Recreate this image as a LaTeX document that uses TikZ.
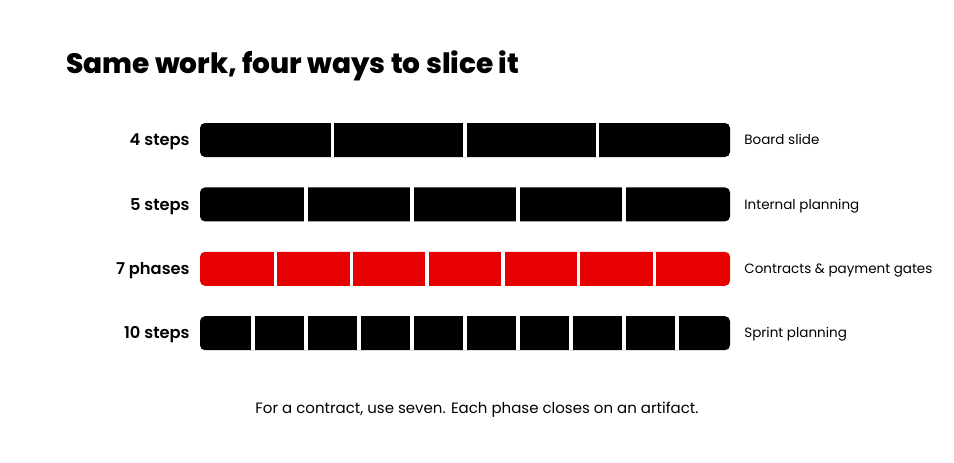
\documentclass[tikz,border=0pt]{standalone}
\usepackage{fontspec}
\setmainfont{Poppins}
\newfontfamily\titlefont{Poppins}[UprightFont=* ExtraBold]
\newfontfamily\labelfont{Poppins}[UprightFont=* SemiBold]
\usetikzlibrary{positioning, calc}
\definecolor{gatered}{RGB}{230,0,0}
\tikzstyle{heading} = [anchor=base west, inner sep=0pt, font=\titlefont\fontsize{28}{34}\selectfont]
\tikzstyle{bar} = [rectangle, rounded corners=5pt, minimum width=530pt, minimum height=34pt, inner sep=0pt, fill=black]
\tikzstyle{rowlabel} = [inner sep=0pt, text height=11.4pt, text depth=0pt, font=\labelfont\fontsize{16.3}{19}\selectfont]
\tikzstyle{note} = [inner sep=0pt, text height=9.5pt, text depth=0pt, font=\fontsize{13.5}{16}\selectfont]
\tikzstyle{caption} = [anchor=base, inner sep=0pt, font=\fontsize{15}{18}\selectfont]
\tikzstyle{divider} = [white, line width=3.5pt]

\begin{document}
\begin{tikzpicture}[x=1pt, y=-1pt]
    \useasboundingbox (0,0) rectangle (954,463);
    \node (title) [heading] at (66,73) {Same work, four ways to slice it};

    \node (bar4) [bar] at (465,140) {};
    \node (bar5) [bar, below=30pt of bar4] {};
    \node (bar7) [bar, fill=gatered, below=30pt of bar5] {};
    \node (bar10) [bar, below=30pt of bar7] {};

    \node (lab4) [rowlabel, left=10pt of bar4] {4 steps};
    \node (lab5) [rowlabel, left=10pt of bar5] {5 steps};
    \node (lab7) [rowlabel, left=10pt of bar7] {7 phases};
    \node (lab10) [rowlabel, left=10pt of bar10] {10 steps};

    \node (note4) [note, right=14pt of bar4] {Board slide};
    \node (note5) [note, right=14pt of bar5] {Internal planning};
    \node (note7) [note, right=14pt of bar7] {Contracts \& payment gates};
    \node (note10) [note, right=14pt of bar10] {Sprint planning};

    % white cuts between the slices
    \foreach \b/\n in {bar4/4, bar5/5, bar7/7, bar10/10} {
        \pgfmathtruncatemacro\m{\n-1}
        \foreach \i in {1,...,\m}
            \draw[divider] ($(\b.north west)!\i/\n!(\b.north east)$) -- ($(\b.south west)!\i/\n!(\b.south east)$);
    }

    \node (foot) [caption] at (477,413) {For a contract, use seven. Each phase closes on an artifact.};
\end{tikzpicture}
\end{document}
